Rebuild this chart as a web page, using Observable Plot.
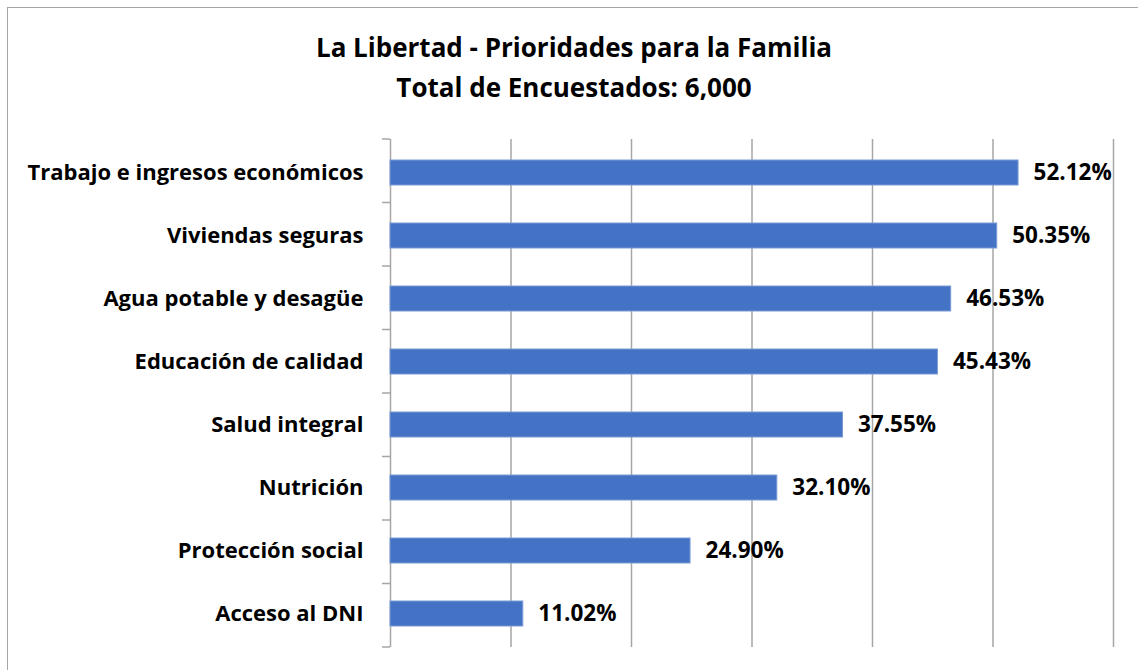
<!DOCTYPE html>
<html>
<head>
<meta charset="utf-8">
<script src="https://cdn.jsdelivr.net/npm/d3@7"></script>
<script src="https://cdn.jsdelivr.net/npm/@observablehq/plot@0.6"></script>
<style>
  body { margin: 0; background: #fff; }
  #wrap { position: relative; width: 1138px; height: 670px; overflow: hidden; background: #fff; font-family: "Open Sans", Lato, sans-serif; }
  #frame { position: absolute; left: 7px; top: 7px; width: 1300px; height: 900px; border: 1.5px solid #a6a6a6; box-sizing: border-box; }
  #title { position: absolute; left: 5px; top: 27px; width: 1138px; text-align: center; font-weight: 700; font-size: 26px; line-height: 40px; color: #000; }
  #chart { position: absolute; left: 0; top: 120px; }
</style>
</head>
<body>
<div id="wrap">
  <div id="frame"></div>
  <div id="title">La Libertad - Prioridades para la Familia<br>Total de Encuestados: 6,000</div>
  <div id="chart"></div>
</div>
<script>
const categories = [
  "Trabajo e ingresos económicos",
  "Viviendas seguras",
  "Agua potable y desagüe",
  "Educación de calidad",
  "Salud integral",
  "Nutrición",
  "Protección social",
  "Acceso al DNI"
];
const values = [52.12, 50.35, 46.53, 45.43, 37.55, 32.10, 24.90, 11.02];
const gridTicks = [10, 20, 30, 40, 50, 60];

const data = categories.map((c, i) => ({category: c, value: values[i]}));

// category boundary tick marks on the y axis
function boundaryTicks(index, scales, values, dims) {
  const n = categories.length;
  const top = dims.marginTop, bottom = dims.height - dims.marginBottom;
  const step = (bottom - top) / n;
  const x0 = scales.x(0);
  const g = d3.create("svg:g");
  for (let i = 0; i <= n; i++) {
    const y = top + i * step;
    g.append("line").attr("x1", x0 - 8).attr("x2", x0).attr("y1", y).attr("y2", y)
      .attr("stroke", "#a6a6a6").attr("stroke-width", 1.5);
  }
  return g.node();
}

const chart = Plot.plot({
  width: 1138,
  height: 550,
  marginLeft: 390,
  marginRight: 25,
  marginTop: 19,
  marginBottom: 23,
  style: {fontFamily: "'Open Sans', Lato, sans-serif", background: "transparent"},
  x: {domain: [0, 60], axis: null},
  y: {domain: categories, paddingInner: 0.6, paddingOuter: 0.3, axis: null},
  marks: [
    Plot.ruleX(gridTicks, {stroke: "#a6a6a6", strokeWidth: 1.5}),
    Plot.ruleX([0], {stroke: "#a6a6a6", strokeWidth: 1.5}),
    boundaryTicks,
    Plot.barX(data, {x: "value", y: "category", fill: "#4472C4", stroke: "#7a9bd6", strokeWidth: 1}),
    Plot.text(data, {x: "value", y: "category", text: d => d.value.toFixed(2) + "%", textAnchor: "start", dx: 15, fontSize: 22.5, fontWeight: 700, fill: "#000"}),
    Plot.text(data, {x: 0, y: "category", text: "category", textAnchor: "end", dx: -27, fontSize: 22, fontWeight: 700, fill: "#000"})
  ]
});
document.getElementById("chart").appendChild(chart);
</script>
</body>
</html>
